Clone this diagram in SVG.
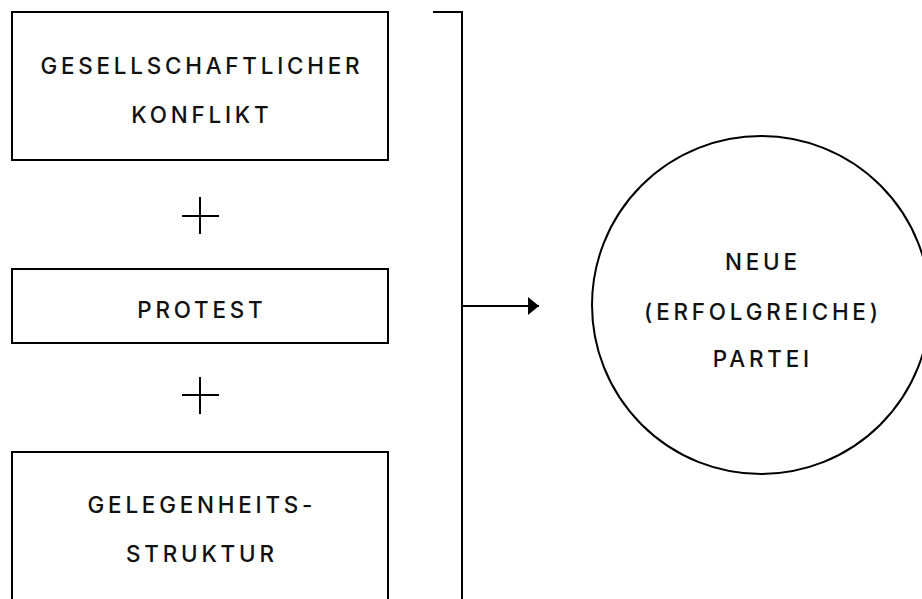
<svg xmlns="http://www.w3.org/2000/svg" width="922" height="599" viewBox="0 0 922 599">
<defs>
<style>
.box{fill:#fff;stroke:#000;stroke-width:2}
.ln{fill:none;stroke:#000;stroke-width:2}
.t{font-family:Inter,"Open Sans",sans-serif;font-size:22.4px;font-weight:500;letter-spacing:3.8px;text-anchor:middle;fill:#111}
</style>
<marker id="ah" markerWidth="12" markerHeight="20" refX="11" refY="9" orient="auto" markerUnits="userSpaceOnUse">
<path d="M0,0 L11,9 L0,18 Z" fill="#000"/>
</marker>
</defs>
<rect width="922" height="599" fill="#fff"/>
<g id="konflikt">
<rect class="box" x="12" y="12" width="376" height="148"/>
<text class="t" x="201.9" y="74">GESELLSCHAFTLICHER</text>
<text class="t" x="201.9" y="123">KONFLIKT</text>
</g>
<g id="plus1"><path class="ln" d="M182,216 H219 M200,197 V234"/></g>
<g id="protest">
<rect class="box" x="12" y="269" width="376" height="74"/>
<text class="t" x="201.9" y="318">PROTEST</text>
</g>
<g id="plus2"><path class="ln" d="M182,395 H219 M200,377 V414"/></g>
<g id="gelegenheit">
<rect class="box" x="12" y="452" width="376" height="160"/>
<text class="t" x="201.9" y="513">GELEGENHEITS-</text>
<text class="t" x="201.9" y="562">STRUKTUR</text>
</g>
<g id="connectors">
<path class="ln" d="M433,12 H462 V599"/>
<path class="ln" d="M462,306 H539" marker-end="url(#ah)"/>
</g>
<g id="partei">
<circle class="box" cx="761" cy="305" r="169"/>
<text class="t" x="762.9" y="270">NEUE</text>
<text class="t" x="762.9" y="320">(ERFOLGREICHE)</text>
<text class="t" x="762.9" y="367">PARTEI</text>
</g>
</svg>
